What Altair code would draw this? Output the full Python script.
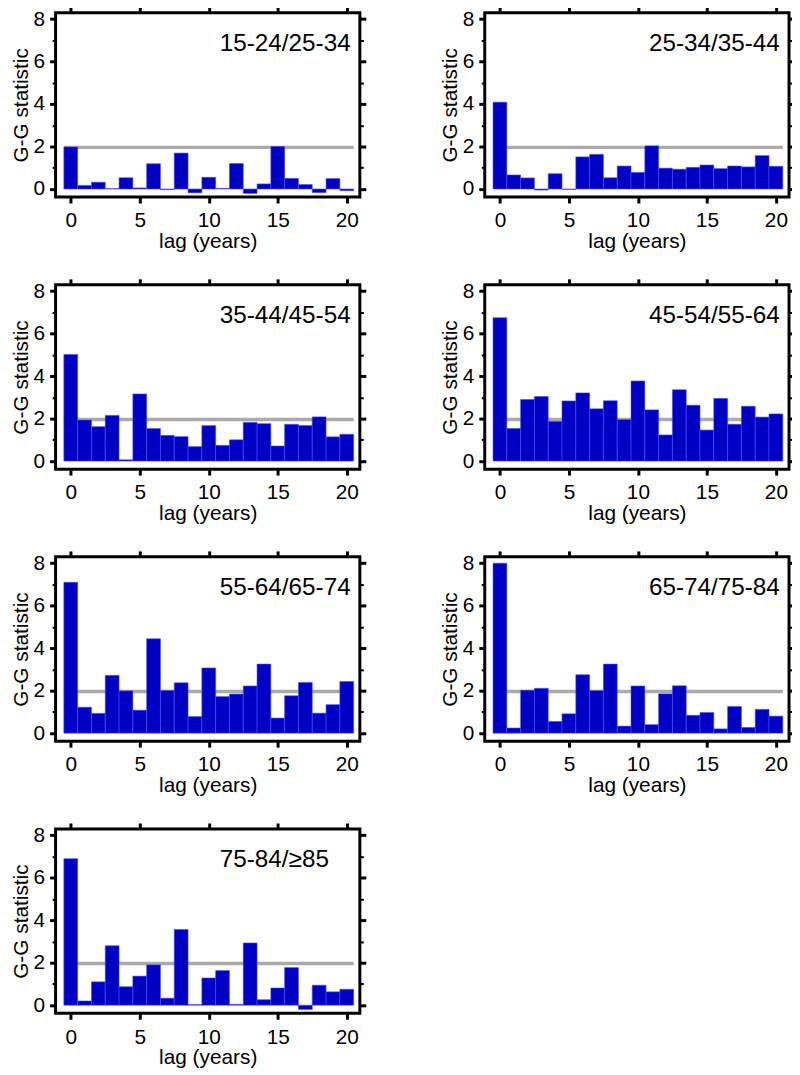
import altair as alt
import pandas as pd

lags = list(range(21))

panel_labels = ["15-24/25-34", "25-34/35-44", "35-44/45-54", "45-54/55-64",
                "55-64/65-74", "65-74/75-84", "75-84/\u226585"]

g_15_24 = [1.98, 0.17, 0.32, 0.02, 0.53, 0.05, 1.19, -0.03, 1.69, -0.18, 0.55,
           0.03, 1.20, -0.21, 0.24, 2.00, 0.50, 0.21, -0.17, 0.49, -0.08]
g_25_34 = [4.09, 0.66, 0.52, -0.05, 0.72, -0.02, 1.51, 1.63, 0.53, 1.08, 0.78,
           2.03, 0.98, 0.93, 1.02, 1.13, 0.96, 1.08, 1.04, 1.57, 1.07]
g_35_44 = [5.02, 1.93, 1.62, 2.15, 0.06, 3.16, 1.53, 1.21, 1.15, 0.68, 1.67,
           0.74, 1.00, 1.82, 1.76, 0.71, 1.73, 1.68, 2.08, 1.14, 1.26]
g_45_54 = [6.75, 1.53, 2.90, 3.04, 1.87, 2.83, 3.21, 2.46, 2.84, 1.95, 3.77,
           2.41, 1.23, 3.36, 2.63, 1.46, 2.95, 1.73, 2.58, 2.07, 2.22]
g_55_64 = [7.10, 1.22, 0.93, 2.72, 1.99, 1.08, 4.44, 2.01, 2.37, 0.78, 3.07,
           1.72, 1.84, 2.22, 3.25, 0.71, 1.76, 2.39, 0.94, 1.34, 2.43]
g_65_74 = [8.00, 0.24, 2.02, 2.11, 0.55, 0.91, 2.75, 2.00, 3.25, 0.33, 2.22,
           0.40, 1.85, 2.23, 0.84, 0.97, 0.20, 1.26, 0.27, 1.12, 0.80]
g_75_84 = [6.90, 0.20, 1.10, 2.80, 0.87, 1.37, 1.90, 0.33, 3.56, 0.03, 1.28,
           1.63, 0.04, 2.93, 0.26, 0.81, 1.77, -0.20, 0.94, 0.63, 0.75]

series = [g_15_24, g_25_34, g_35_44, g_45_54, g_55_64, g_65_74, g_75_84]

threshold = 1.96
FONT = "Liberation Sans"

XDOM = [-1.1, 20.95]
YDOM = [-0.38, 8.3]

ax_bottom = alt.Axis(orient="bottom", values=[0, 5, 10, 15, 20], tickSize=6,
                     labelPadding=7, title="lag (years)", titlePadding=0,
                     labelFlush=False)
ax_top = alt.Axis(orient="top", values=[0, 5, 10, 15, 20], tickSize=6,
                  labels=False, title=None)
ax_left = alt.Axis(orient="left", values=[0, 2, 4, 6, 8], tickSize=6,
                   labelPadding=5, title="G-G statistic", titlePadding=2,
                   labelFlush=False)
ax_right = alt.Axis(orient="right", values=[0, 2, 4, 6, 8], tickSize=6,
                    labels=False, title=None)
ax_left_minor = alt.Axis(orient="left", values=[1, 3, 5, 7], tickSize=3.5,
                         tickWidth=2, labels=False, title=None)
ax_right_minor = alt.Axis(orient="right", values=[1, 3, 5, 7], tickSize=3.5,
                          tickWidth=2, labels=False, title=None)


def panel(label, vals):
    xs = alt.Scale(domain=XDOM, nice=False, zero=False, padding=0)
    ys = alt.Scale(domain=YDOM, nice=False, zero=False, padding=0)
    df = pd.DataFrame({"lag": lags, "g": vals})
    df["x1"] = df["lag"] - 0.5
    df["x2"] = df["lag"] + 0.5
    ref = pd.DataFrame({"a": [lags[0] - 0.5], "b": [lags[-1] + 0.5],
                        "y": [threshold]})

    rule = alt.Chart(ref).mark_rule(color="#aaaaaa", strokeWidth=3.5).encode(
        x=alt.X("a:Q", scale=xs, axis=ax_bottom),
        x2="b:Q",
        y=alt.Y("y:Q", scale=ys, axis=ax_left),
    )
    bars = alt.Chart(df).mark_bar(color="#0000c4", stroke="#4a4aff",
                                  strokeWidth=0.6).encode(
        x=alt.X("x1:Q", scale=xs, axis=ax_top),
        x2="x2:Q",
        y=alt.Y("g:Q", scale=ys, axis=ax_right),
        y2=alt.datum(0),
    )
    minor_l = alt.Chart(ref).mark_point(opacity=0).encode(
        x=alt.X("a:Q", scale=xs, axis=None),
        y=alt.Y("y:Q", scale=ys, axis=ax_left_minor))
    minor_r = alt.Chart(ref).mark_point(opacity=0).encode(
        x=alt.X("a:Q", scale=xs, axis=None),
        y=alt.Y("y:Q", scale=ys, axis=ax_right_minor))
    txt = alt.Chart(ref).mark_text(align="left", baseline="alphabetic",
                                   fontSize=24.5, font=FONT, color="black",
                                   text=label).encode(
        x=alt.XDatum(10.8, axis=None),
        y=alt.YDatum(6.5, axis=None),
    )
    return alt.layer(rule, bars, minor_l, minor_r, txt).resolve_axis(
        x="independent", y="independent").properties(width=307, height=186)


chart = alt.concat(*[panel(l, s) for l, s in zip(panel_labels, series)],
                   columns=2, spacing={"row": 22.5, "column": 69}).properties(
    padding={"left": 0, "top": -9, "right": -6, "bottom": 0},
    background="white",
).configure_view(stroke="black", strokeWidth=3).configure_axis(
    domain=False, grid=False, tickColor="black", tickWidth=3,
    labelFont=FONT, titleFont=FONT, labelFontSize=21, titleFontSize=21,
    titleFontWeight="normal", labelColor="black", titleColor="black",
)

chart.save("out.html", embed_options={"renderer": "svg", "actions": False})
